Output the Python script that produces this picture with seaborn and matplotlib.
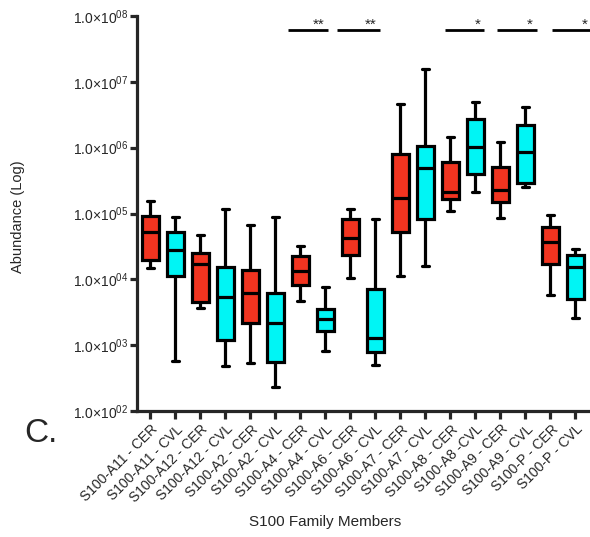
import matplotlib
matplotlib.use("Agg")
import matplotlib.pyplot as plt
import seaborn as sns
import pandas as pd
import numpy as np
from matplotlib.ticker import FixedLocator, FixedFormatter, NullLocator

# ---- data (five-number summaries) ----
categories = ['S100-A11 - CER', 'S100-A11 - CVL', 'S100-A12 - CER', 'S100-A12 - CVL',
              'S100-A2 - CER', 'S100-A2 - CVL', 'S100-A4 - CER', 'S100-A4 - CVL',
              'S100-A6 - CER', 'S100-A6 - CVL', 'S100-A7 - CER', 'S100-A7 - CVL',
              'S100-A8 - CER', 'S100-A8 -CVL', 'S100-A9 - CER', 'S100-A9 - CVL',
              'S100-P - CER', 'S100-P - CVL']
minimum = [1.49e4, 581, 3.67e3, 477, 530, 229, 4.74e3, 824, 1.04e4, 493,
           1.11e4, 1.58e4, 1.10e5, 2.14e5, 8.6e4, 2.52e5, 5.85e3, 2.59e3]
q1 = [1.95e4, 1.13e4, 4.57e3, 1.21e3, 2.15e3, 548, 8.2e3, 1.64e3, 2.34e4, 778,
      5.2e4, 8.35e4, 1.64e5, 4.03e5, 1.51e5, 2.87e5, 1.73e4, 5.1e3]
median = [5.3e4, 2.8e4, 1.71e4, 5.4e3, 6.1e3, 2.15e3, 1.35e4, 2.49e3, 4.25e4, 1.3e3,
          1.74e5, 4.85e5, 2.1e5, 1.03e6, 2.27e5, 8.5e5, 3.69e4, 1.56e4]
q3 = [9.2e4, 5.2e4, 2.48e4, 1.54e4, 1.37e4, 6.1e3, 2.29e4, 3.5e3, 8.35e4, 7.2e3,
      7.9e5, 1.06e6, 6.1e5, 2.7e6, 5.0e5, 2.18e6, 6.2e4, 2.31e4]
maximum = [1.53e5, 8.7e4, 4.66e4, 1.16e5, 6.8e4, 8.95e4, 3.24e4, 7.7e3, 1.16e5, 8.2e4,
           4.66e6, 1.57e7, 1.45e6, 4.94e6, 1.23e6, 4.2e6, 9.4e4, 2.92e4]

# significance bars (category units) and labels
sig_start = [5.52, 7.48, 11.8, 13.88, 16.08]
sig_end = [7.12, 9.2, 13.36, 15.48, 17.8]
sig_label = ['**', '**', '*', '*', '*']
sig_label_x = [6.98, 9.06, 13.22, 15.32, 17.5]
sig_y = 6.1e7

ytick_values = [1e2, 1e3, 1e4, 1e5, 1e6, 1e7, 1e8]
ytick_labels = ['1.0×10$^{02}$', '1.0×10$^{03}$', '1.0×10$^{04}$', '1.0×10$^{05}$',
                '1.0×10$^{06}$', '1.0×10$^{07}$', '1.0×10$^{08}$']

red = '#F23420'
cyan = '#00F5F5'

rows = []
for i, c in enumerate(categories):
    for v in (minimum[i], q1[i], median[i], q3[i], maximum[i]):
        rows.append({'cat': c, 'val': v})
df = pd.DataFrame(rows)

sns.set_style('ticks')
plt.rcParams['font.family'] = ['Liberation Sans', 'DejaVu Sans']
plt.rcParams['mathtext.default'] = 'regular'

fig = plt.figure(figsize=(5.9, 5.37), dpi=100)
ax = fig.add_axes([137/590, 126/537, (590-137)/590, (411-16)/537])

palette = [red if i % 2 == 0 else cyan for i in range(len(categories))]
sns.boxplot(data=df, x='cat', y='val', hue='cat', palette=palette, legend=False,
            order=categories, hue_order=categories, dodge=False,
            whis=(0, 100), width=0.68, linewidth=2.3, linecolor='black',
            saturation=1, log_scale=(False, True), showfliers=False,
            capwidths=0.28, ax=ax)

ax.set_ylim(1e2, 1e8)
ax.set_xlim(-0.52, 17.6)
ax.yaxis.set_major_locator(FixedLocator(ytick_values))
ax.yaxis.set_major_formatter(FixedFormatter(ytick_labels))
ax.yaxis.set_minor_locator(NullLocator())
ax.tick_params(axis='y', labelsize=10, length=5, width=2.3, pad=1)
ax.tick_params(axis='x', labelsize=10, length=6, width=2.3, pad=2)
ax.set_xticks(range(len(categories)))
ax.set_xticklabels(categories, rotation=45, ha='right', rotation_mode='anchor')
for lab in ax.get_xticklabels():
    lab.set_transform(lab.get_transform() + matplotlib.transforms.ScaledTranslation(0.5/72, 0, fig.dpi_scale_trans))

sns.despine(ax=ax)
ax.spines['left'].set_linewidth(2.3)
ax.spines['bottom'].set_linewidth(2.3)
ax.set_xlabel('')
ax.set_ylabel('')

for s, e, lab, lx in zip(sig_start, sig_end, sig_label, sig_label_x):
    ax.plot([s, e], [sig_y, sig_y], color='black', lw=2.0, clip_on=False,
            solid_capstyle='butt')
    ax.text(lx, sig_y * 0.93, lab, ha='right', va='bottom', fontsize=11,
            clip_on=False)

fig.text(325/590, 1 - 522/537, 'S100 Family Members', ha='center', va='center', fontsize=11)
fig.text(18/590, 1 - 217/537, 'Abundance (Log)', ha='center', va='center',
         rotation=90, fontsize=10.5)
fig.text(41/590, 1 - 434/537, 'C.', ha='center', va='center', fontsize=24)

fig.savefig('out.png', dpi=100)
